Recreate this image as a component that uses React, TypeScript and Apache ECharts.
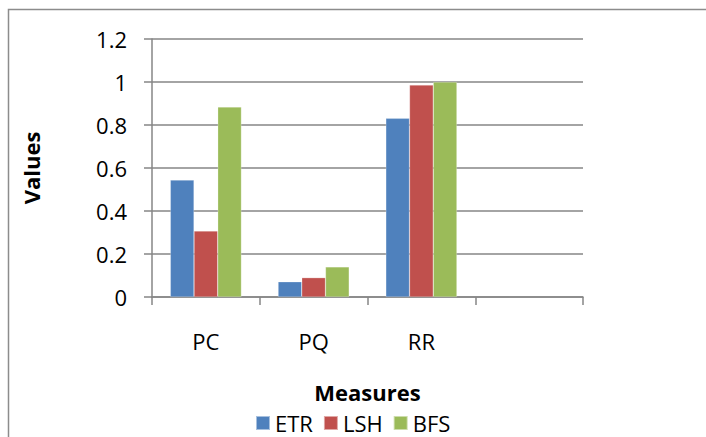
import React, { useEffect, useRef } from "react";
import * as echarts from "echarts";

const categories = ["PC", "PQ", "RR", ""];
const etr = [0.544, 0.071, 0.831, null];
const lsh = [0.307, 0.09, 0.986, null];
const bfs = [0.884, 0.14, 1.0, null];
const seriesNames = ["ETR", "LSH", "BFS"];
const colors = ["#4F81BD", "#C0504D", "#9BBB59"];

export default function App() {
  const ref = useRef<HTMLDivElement>(null);
  useEffect(() => {
    if (!ref.current) return;
    const chart = echarts.init(ref.current, undefined, { renderer: "svg" });
    const font = "'Open Sans', 'Liberation Sans', sans-serif";
    const grey = "#868686";
    const data = [etr, lsh, bfs];
    chart.setOption({
      animation: false,
      backgroundColor: "#ffffff",
      textStyle: { fontFamily: font },
      graphic: [
        {
          type: "rect",
          shape: { x: 8.5, y: 9.5, width: 900, height: 900 },
          style: { fill: "none", stroke: "#8c8c8c", lineWidth: 1.5 },
          silent: true,
        },
      ],
      grid: { left: 152, top: 39, width: 431, height: 258 },
      legend: {
        left: 255,
        top: 412,
        padding: 0,
        itemWidth: 14,
        itemHeight: 14,
        itemGap: 10,
        icon: "rect",
        data: seriesNames,
        textStyle: { fontFamily: font, fontSize: 22, color: "#000", lineHeight: 22 },
      },
      xAxis: {
        type: "category",
        data: categories,
        name: "Measures",
        nameLocation: "middle",
        nameGap: 84,
        nameTextStyle: { fontFamily: font, fontSize: 22, fontWeight: "bold", color: "#000" },
        axisLine: { lineStyle: { color: grey, width: 1.5 } },
        axisTick: { show: true, length: 8, lineStyle: { color: grey, width: 1.5 } },
        axisLabel: { fontFamily: font, fontSize: 22, color: "#000", margin: 33 },
        splitLine: { show: false },
      },
      yAxis: {
        type: "value",
        min: 0,
        max: 1.2,
        interval: 0.2,
        name: "Values",
        nameLocation: "middle",
        nameGap: 110,
        nameRotate: 90,
        nameTextStyle: { fontFamily: font, fontSize: 22, fontWeight: "bold", color: "#000" },
        axisLine: { show: true, lineStyle: { color: grey, width: 1.5 } },
        axisTick: { show: true, length: 8, lineStyle: { color: grey, width: 1.5 } },
        axisLabel: {
          fontFamily: font,
          fontSize: 22,
          color: "#000",
          margin: 25,
          formatter: (v: number) => String(Math.round(v * 10) / 10),
        },
        splitLine: { show: true, lineStyle: { color: grey, width: 1.5 } },
      },
      series: seriesNames.map((n, i) => ({
        name: n,
        type: "bar",
        data: data[i],
        barGap: "0%",
        barCategoryGap: "34%",
        itemStyle: { color: colors[i], borderColor: "rgba(255,255,255,0.5)", borderWidth: 0.5 },
      })),
    });
    return () => chart.dispose();
  }, []);
  return (
    <div
      ref={ref}
      style={{ position: "absolute", left: 0, top: 0, width: 706, height: 437 }}
    />
  );
}
